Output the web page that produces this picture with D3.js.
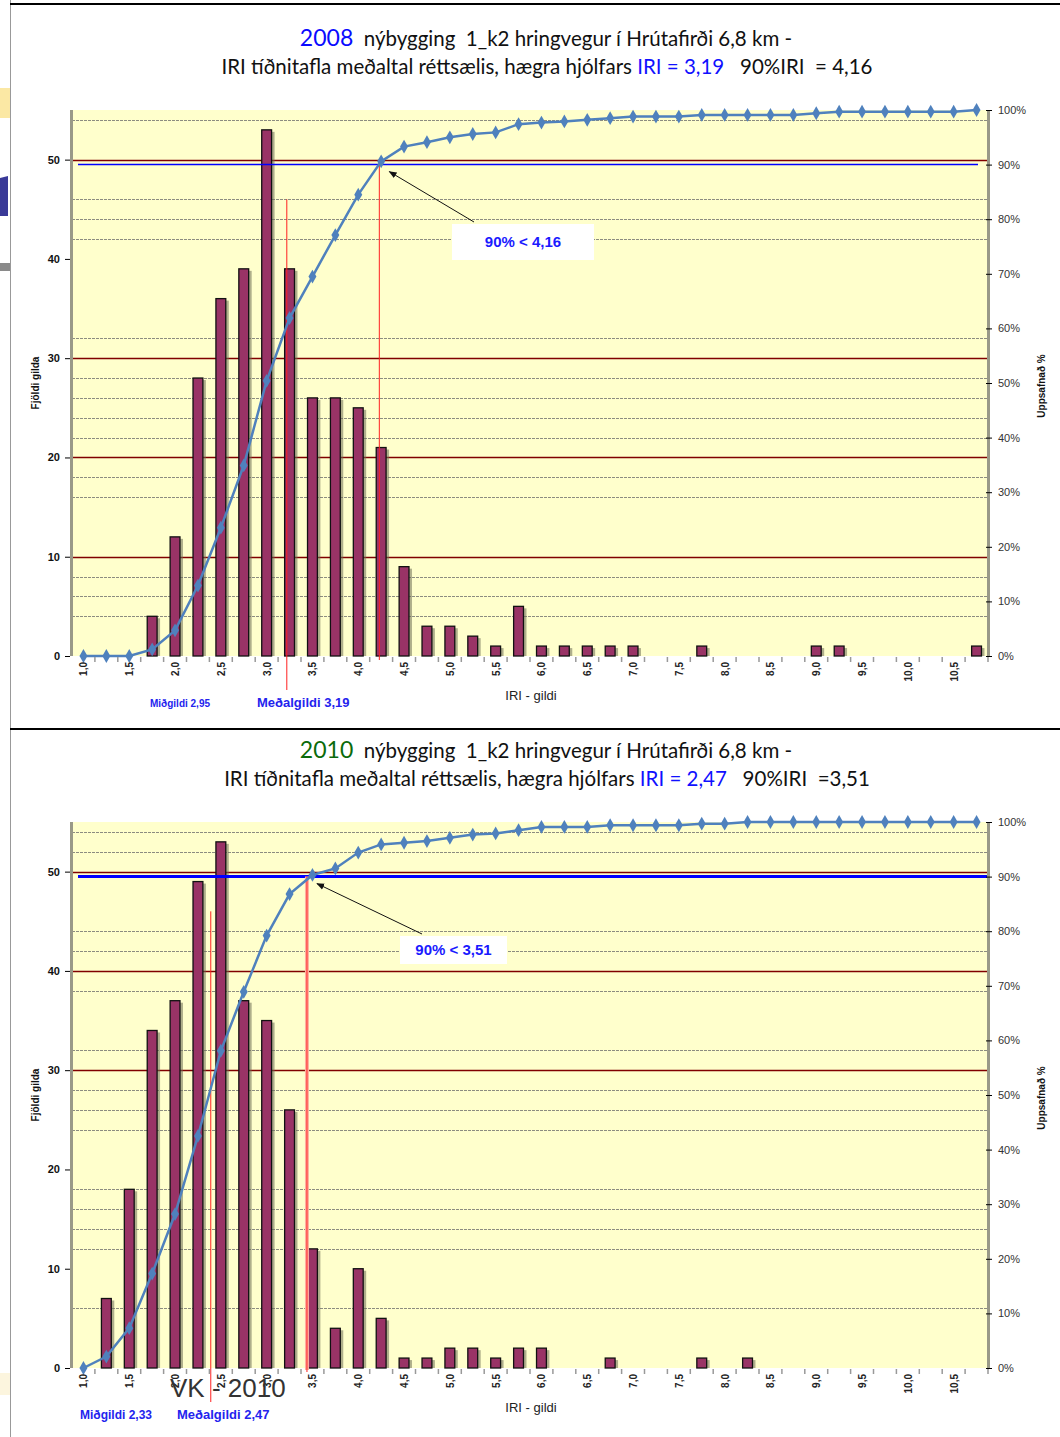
<!DOCTYPE html>
<html>
<head>
<meta charset="utf-8">
<script src="https://cdn.jsdelivr.net/npm/d3@7"></script>
<style>
  body { margin: 0; background: #fff; }
  text { font-family: "Liberation Sans", Arial, sans-serif; }
  .title { font-family: Lato, "Open Sans", sans-serif; white-space: pre; }
</style>
</head>
<body>
<script>
// IRI bins (category centres)
var categories = [1.0, 1.25, 1.5, 1.75, 2.0, 2.25, 2.5, 2.75, 3.0, 3.25,
                  3.5, 3.75, 4.0, 4.25, 4.5, 4.75, 5.0, 5.25, 5.5, 5.75,
                  6.0, 6.25, 6.5, 6.75, 7.0, 7.25, 7.5, 7.75, 8.0, 8.25,
                  8.5, 8.75, 9.0, 9.25, 9.5, 9.75, 10.0, 10.25, 10.5, 10.75];
var tickLabels = {1.0:"1,0", 1.5:"1,5", 2.0:"2,0", 2.5:"2,5", 3.0:"3,0", 3.5:"3,5",
                  4.0:"4,0", 4.5:"4,5", 5.0:"5,0", 5.5:"5,5", 6.0:"6,0", 6.5:"6,5",
                  7.0:"7,0", 7.5:"7,5", 8.0:"8,0", 8.5:"8,5", 9.0:"9,0", 9.5:"9,5",
                  10.0:"10,0", 10.5:"10,5"};
var countTicks = [0, 10, 20, 30, 40, 50];
var pctTicks = [0, 10, 20, 30, 40, 50, 60, 70, 80, 90, 100];

// 2008
var counts2008 = [0, 0, 0, 4, 12, 28, 36, 39, 53, 39,
                  26, 26, 25, 21, 9, 3, 3, 2, 1, 5,
                  1, 1, 1, 1, 1, 0, 0, 1, 0, 0,
                  0, 0, 1, 1, 0, 0, 0, 0, 0, 1];
var cum2008 = [0, 0, 0, 1.2, 4.7, 12.9, 23.5, 34.9, 50.4, 61.9,
               69.5, 77.1, 84.5, 90.6, 93.3, 94.1, 95.0, 95.6, 95.9, 97.4,
               97.7, 97.9, 98.2, 98.5, 98.8, 98.8, 98.8, 99.1, 99.1, 99.1,
               99.1, 99.1, 99.4, 99.7, 99.7, 99.7, 99.7, 99.7, 99.7, 100];
var redGrid2008 = [10, 20, 30, 50];
var grayGrid2008 = [4, 6, 8, 16, 18, 22, 24, 26, 28, 32, 42, 44, 46, 54];
var lines2008 = [3.22, 4.23];   // mean line, 90% line as drawn

// 2010
var counts2010 = [0, 7, 18, 34, 37, 49, 53, 37, 35, 26,
                  12, 4, 10, 5, 1, 1, 2, 2, 1, 2,
                  2, 0, 0, 1, 0, 0, 0, 1, 0, 1,
                  0, 0, 0, 0, 0, 0, 0, 0, 0, 0];
var cum2010 = [0, 2.1, 7.3, 17.3, 28.2, 42.5, 58.1, 68.9, 79.2, 86.8,
               90.3, 91.5, 94.4, 95.9, 96.2, 96.5, 97.1, 97.7, 97.9, 98.5,
               99.1, 99.1, 99.1, 99.4, 99.4, 99.4, 99.4, 99.7, 99.7, 100,
               100, 100, 100, 100, 100, 100, 100, 100, 100, 100];
var redGrid2010 = [30, 40, 50];
var grayGrid2010 = [6, 12, 14, 16, 18, 24, 26, 28, 32, 38, 42, 44, 52, 54];
var lines2010 = [2.39, 3.44];

var svg = d3.select("body").append("svg").attr("width", 1060).attr("height", 1437);

// page frame / slide leftovers
svg.append("line").attr("x1", 10.5).attr("x2", 10.5).attr("y1", 0).attr("y2", 1437)
  .attr("stroke", "#999").attr("stroke-width", 1);
svg.append("line").attr("x1", 10).attr("x2", 1060).attr("y1", 4).attr("y2", 4)
  .attr("stroke", "#000").attr("stroke-width", 2);
svg.append("line").attr("x1", 10).attr("x2", 1060).attr("y1", 729).attr("y2", 729)
  .attr("stroke", "#000").attr("stroke-width", 2);
svg.append("rect").attr("x", 0).attr("y", 88).attr("width", 10).attr("height", 30).attr("fill", "#fbe8a4");
svg.append("rect").attr("x", 0).attr("y", 263).attr("width", 10).attr("height", 8).attr("fill", "#8a8a8a");
svg.append("rect").attr("x", 0).attr("y", 1373).attr("width", 10).attr("height", 22).attr("fill", "#fcf5de");
svg.append("path").attr("d", "M0,178 L8,176 L8,216 L0,216 Z").attr("fill", "#3a3a98");

function drawChart(cfg) {
  var top = cfg.top, bottom = cfg.top + 546, left = 72, right = 988;
  var g = svg.append("g");

  var x = d3.scaleBand().domain(categories).range([left, right])
    .paddingInner(0.57).paddingOuter(0.285);
  var xc = function(c) { return x(c) + x.bandwidth() / 2; };
  var xl = d3.scaleLinear().domain([1, 10.75]).range([xc(1), xc(10.75)]);
  var y = d3.scaleLinear().domain([0, 55]).range([bottom, top]);
  var y2 = d3.scaleLinear().domain([0, 100]).range([bottom, top]);

  // title
  var t1 = g.append("text").attr("class", "title").attr("x", 546).attr("y", cfg.top - 64)
    .attr("text-anchor", "middle").attr("font-size", 20.5).attr("fill", "#111");
  t1.append("tspan").attr("fill", cfg.yearColor).attr("font-size", 23).text(cfg.year);
  t1.append("tspan").text("  nýbygging  1_k2 hringvegur í Hrútafirði 6,8 km -");
  var t2 = g.append("text").attr("class", "title").attr("x", 547).attr("y", cfg.top - 36)
    .attr("text-anchor", "middle").attr("font-size", 20.5).attr("fill", "#111");
  t2.append("tspan").text("IRI tíðnitafla meðaltal réttsælis, hægra hjólfars ");
  t2.append("tspan").attr("fill", "#1010ff").text("IRI = " + cfg.iri);
  t2.append("tspan").text("   90%IRI  " + cfg.p90text);

  // plot area
  g.append("rect").attr("x", left).attr("y", top).attr("width", right - left).attr("height", bottom - top)
    .attr("fill", "#ffffcc");

  g.selectAll(".gg").data(cfg.grayGrid).enter().append("line")
    .attr("x1", left).attr("x2", right)
    .attr("y1", function(d) { return Math.round(y(d)) + 0.5; })
    .attr("y2", function(d) { return Math.round(y(d)) + 0.5; })
    .attr("stroke", "#8c8c80").attr("stroke-width", 1).attr("stroke-dasharray", "3,1");
  g.selectAll(".rg").data(cfg.redGrid).enter().append("line")
    .attr("x1", left).attr("x2", right)
    .attr("y1", function(d) { return Math.round(y(d)) + 0.5; })
    .attr("y2", function(d) { return Math.round(y(d)) + 0.5; })
    .attr("stroke", "#800000").attr("stroke-width", 1.3);

  // bars with shadow
  var idx = d3.range(categories.length).filter(function(i) { return cfg.counts[i] > 0; });
  g.selectAll(".sh").data(idx).enter().append("rect")
    .attr("x", function(i) { return x(categories[i]) + 3; })
    .attr("y", function(i) { return y(cfg.counts[i]) + 2; })
    .attr("width", x.bandwidth())
    .attr("height", function(i) { return bottom - y(cfg.counts[i]) - 2; })
    .attr("fill", "#6e6e55").attr("opacity", 0.55);
  g.selectAll(".bar").data(idx).enter().append("rect")
    .attr("x", function(i) { return x(categories[i]); })
    .attr("y", function(i) { return y(cfg.counts[i]); })
    .attr("width", x.bandwidth())
    .attr("height", function(i) { return bottom - y(cfg.counts[i]); })
    .attr("fill", "#993366").attr("stroke", "#111").attr("stroke-width", 1.3);

  // 90% horizontal line
  g.append("line").attr("x1", 78).attr("x2", cfg.blueEnd)
    .attr("y1", y2(90)).attr("y2", y2(90))
    .attr("stroke", "#0000ff").attr("stroke-width", cfg.blueWidth);

  // mean and 90% vertical lines
  g.append("line").attr("x1", xl(cfg.lines[0])).attr("x2", xl(cfg.lines[0]))
    .attr("y1", y(46)).attr("y2", bottom + 34).attr("stroke", "#ff2020").attr("stroke-width", 1);
  if (cfg.halo) {
    g.append("line").attr("x1", xl(cfg.lines[1])).attr("x2", xl(cfg.lines[1]))
      .attr("y1", y2(90)).attr("y2", bottom + 2).attr("stroke", "#ffb0a0").attr("stroke-width", 4);
  }
  g.append("line").attr("x1", xl(cfg.lines[1])).attr("x2", xl(cfg.lines[1]))
    .attr("y1", y2(90)).attr("y2", bottom + 4).attr("stroke", "#ff2020").attr("stroke-width", 1);

  // cumulative line
  var line = d3.line().x(function(d, i) { return xc(categories[i]); }).y(function(d) { return y2(d); });
  g.append("path").datum(cfg.cum).attr("d", line)
    .attr("fill", "none").attr("stroke", "#4f81bd").attr("stroke-width", 2.5);
  g.selectAll(".pt").data(cfg.cum).enter().append("path")
    .attr("transform", function(d, i) { return "translate(" + xc(categories[i]) + "," + y2(d) + ")"; })
    .attr("d", d3.symbol().type(d3.symbolDiamond).size(55))
    .attr("fill", "#4f81bd");

  // axes lines
  g.append("line").attr("x1", left - 0.5).attr("x2", left - 0.5).attr("y1", top).attr("y2", bottom)
    .attr("stroke", "#999988").attr("stroke-width", 3);
  g.append("line").attr("x1", right + 0.5).attr("x2", right + 0.5).attr("y1", top).attr("y2", bottom)
    .attr("stroke", "#999988").attr("stroke-width", 3);

  var ay = g.append("g").attr("transform", "translate(" + (left - 2) + ",0)")
    .call(d3.axisLeft(y).tickValues(countTicks).tickSize(5).tickPadding(5));
  ay.select(".domain").remove();
  ay.selectAll("text").attr("font-size", 11).attr("font-weight", "bold").attr("fill", "#111")
    .style("font-family", "Liberation Sans, Arial, sans-serif");

  var ay2 = g.append("g").attr("transform", "translate(" + (right - 2) + ",0)")
    .call(d3.axisRight(y2).tickValues(pctTicks).tickSize(6).tickPadding(6)
      .tickFormat(function(d) { return d + "%"; }));
  ay2.select(".domain").remove();
  ay2.selectAll("text").attr("font-size", 11).attr("fill", "#333")
    .style("font-family", "Liberation Sans, Arial, sans-serif");

  // x ticks (category boundaries) and labels
  g.selectAll(".xt").data(categories).enter().append("line")
    .attr("x1", function(c) { return xc(c) + x.step() / 2; })
    .attr("x2", function(c) { return xc(c) + x.step() / 2; })
    .attr("y1", bottom + 1).attr("y2", bottom + 6)
    .attr("stroke", "#999").attr("stroke-width", 1.5);
  g.selectAll(".xl").data(categories.filter(function(c) { return tickLabels[c]; })).enter().append("text")
    .attr("transform", function(c) { return "translate(" + (xc(c) + 4) + "," + (bottom + 6) + ") rotate(-90)"; })
    .attr("text-anchor", "end").attr("font-size", 10).attr("font-weight", "bold").attr("fill", "#222")
    .text(function(c) { return tickLabels[c]; });

  // axis titles
  g.append("text").attr("transform", "translate(39," + (top + 273) + ") rotate(-90)")
    .attr("text-anchor", "middle").attr("font-size", 10).attr("font-weight", "bold").attr("fill", "#111")
    .text("Fjöldi gilda");
  g.append("text").attr("transform", "translate(1045," + (top + 276) + ") rotate(-90)")
    .attr("text-anchor", "middle").attr("font-size", 10).attr("font-weight", "bold").attr("fill", "#111")
    .text("Uppsafnað %");
  g.append("text").attr("x", 531).attr("y", bottom + 44).attr("text-anchor", "middle")
    .attr("font-size", 13).attr("fill", "#222").text("IRI - gildi");

  // median / mean labels
  g.append("text").attr("x", cfg.medX).attr("y", bottom + 51).attr("font-size", cfg.medSize)
    .attr("font-weight", "bold").attr("fill", "#2323ee").text(cfg.median);
  g.append("text").attr("x", cfg.meanX).attr("y", bottom + 51).attr("font-size", 13)
    .attr("font-weight", "bold").attr("fill", "#2323ee").text(cfg.mean);

  // 90% callout
  var bx = cfg.box;
  var ix = xl(cfg.lines[1]) + 8, iy = y2(90) + 6;
  g.append("line").attr("x1", bx[0] + 22).attr("y1", bx[1] - 2).attr("x2", ix + 2).attr("y2", iy + 1)
    .attr("stroke", "#111").attr("stroke-width", 1).attr("marker-end", "url(#arr)");
  g.append("rect").attr("x", bx[0]).attr("y", bx[1]).attr("width", bx[2]).attr("height", bx[3]).attr("fill", "#fff");
  g.append("text").attr("x", bx[0] + bx[2] / 2).attr("y", bx[1] + bx[3] / 2 + 5).attr("text-anchor", "middle")
    .attr("font-size", 15).attr("font-weight", "bold").attr("fill", "#1a1aff").text(cfg.callout);
}

svg.append("defs").append("marker").attr("id", "arr").attr("viewBox", "0 0 10 10")
  .attr("refX", 9).attr("refY", 5).attr("markerWidth", 8).attr("markerHeight", 8)
  .attr("orient", "auto").append("path").attr("d", "M0,1 L10,5 L0,9 z").attr("fill", "#111");

drawChart({top: 110, year: "2008", yearColor: "#0a0aff", iri: "3,19", p90text: "= 4,16",
  counts: counts2008, cum: cum2008, redGrid: redGrid2008, grayGrid: grayGrid2008, lines: lines2008,
  blueEnd: 978, blueWidth: 1.5, halo: false,
  median: "Miðgildi 2,95", medX: 150, medSize: 10, mean: "Meðalgildi 3,19", meanX: 257,
  box: [452, 224, 142, 36], callout: "90% < 4,16"});

drawChart({top: 822, year: "2010", yearColor: "#0b6b0b", iri: "2,47", p90text: "=3,51",
  counts: counts2010, cum: cum2010, redGrid: redGrid2010, grayGrid: grayGrid2010, lines: lines2010,
  blueEnd: 988, blueWidth: 3, halo: true,
  median: "Miðgildi 2,33", medX: 80, medSize: 12, mean: "Meðalgildi 2,47", meanX: 177,
  box: [400, 936, 107, 28], callout: "90% < 3,51"});

// slide footer overlapping the chart
svg.append("text").attr("x", 170).attr("y", 1397).attr("font-size", 26).attr("fill", "#333")
  .text("VK - 2010");
</script>
</body>
</html>
